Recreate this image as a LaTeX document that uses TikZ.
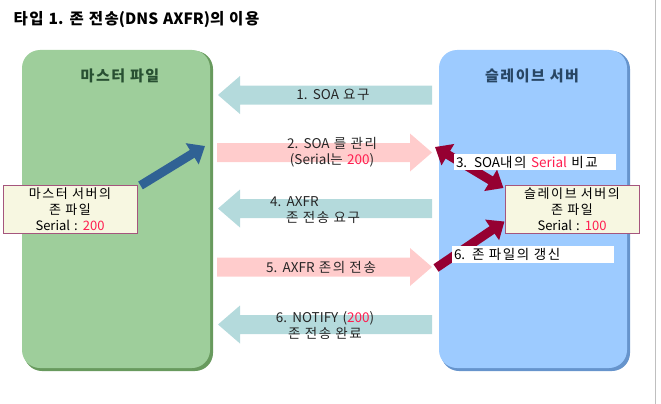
\documentclass[tikz,border=0pt]{standalone}
\usepackage{fontspec}
\setmainfont{Noto Sans CJK KR}[WordSpace=1.4]
\usetikzlibrary{positioning,arrows.meta,calc}

% 한글 글자 사이 간격
\XeTeXinterchartokenstate=1
\newXeTeXintercharclass\hgclass
\count255="AC00
\loop
  \XeTeXcharclass\count255=\hgclass
  \ifnum\count255<"D7A3 \advance\count255 by 1 \repeat
\XeTeXinterchartoks\hgclass\hgclass={\kern1.6pt}

\definecolor{boxgreen}{RGB}{158,206,155}
\definecolor{edgegreen}{RGB}{104,154,94}
\definecolor{boxblue}{RGB}{157,203,255}
\definecolor{edgeblue}{RGB}{102,148,204}
\definecolor{askcyan}{RGB}{180,218,220}
\definecolor{sendpink}{RGB}{255,204,204}
\definecolor{filebg}{RGB}{247,247,225}
\definecolor{fileedge}{RGB}{165,85,125}
\definecolor{numred}{RGB}{255,30,80}
\definecolor{wine}{RGB}{150,0,50}
\definecolor{steel}{RGB}{48,98,148}
\definecolor{greentext}{RGB}{40,80,50}
\definecolor{bluetext}{RGB}{40,70,100}

\tikzset{
  lbl/.style={font=\fontsize{13.5}{16}\selectfont, text=black!85, align=center, inner sep=0pt},
  panel/.style={rounded corners=18pt, minimum width=188pt, minimum height=318pt, inner sep=0pt},
  filebox/.style={draw=fileedge, line width=1pt, fill=filebg, minimum width=134pt,
    minimum height=48pt, inner sep=0pt, align=center, font=\fontsize{13}{16}\selectfont},
  notebox/.style={fill=white, inner sep=2pt, text width=158pt, minimum height=16pt,
    align=left, font=\fontsize{13.5}{14}\selectfont},
  fat/.style={line width=9pt},
}

% 큰 화살표 (왼쪽 / 오른쪽)
\newcommand{\toleft}[1]{%
  \fill[askcyan] (218,#1) -- (240,#1-19) -- (240,#1-9.5) -- (432,#1-9.5)
    -- (432,#1+9.5) -- (240,#1+9.5) -- (240,#1+19) -- cycle;}
\newcommand{\toright}[1]{%
  \fill[sendpink] (432,#1) -- (410,#1-19) -- (410,#1-9.5) -- (217,#1-9.5)
    -- (217,#1+9.5) -- (410,#1+9.5) -- (410,#1+19) -- cycle;}
\newcommand{\red}[1]{{\color{numred}#1}}

\begin{document}
\begin{tikzpicture}[x=1pt,y=-1pt]
  \useasboundingbox (0,0) rectangle (661,404);
  \draw[black!25] (655,0) -- (655,404);

  % 제목
  \node[anchor=west, font=\fontsize{15.5}{17}\selectfont\bfseries] (title) at (10,20)
    {타입 1. 존 전송(DNS AXFR)의 이용};

  % 마스터 / 슬레이브
  \fill[edgegreen, rounded corners=18pt] (24,51) rectangle (213,371);
  \node[panel, fill=boxgreen] (master) at (116,209) {};
  \node[font=\fontsize{15}{17}\selectfont\bfseries, text=greentext] (mtitle) at (120,76) {마스터 파일};

  \fill[edgeblue, rounded corners=18pt] (441,51) rectangle (630,371);
  \node[panel, fill=boxblue] (slave) at (533,209) {};
  \node[font=\fontsize{15}{17}\selectfont\bfseries, text=bluetext] (stitle) at (532,76) {슬레이브 서버};

  % 메시지
  \toleft{95}
  \node[lbl] (m1) at (333,95) {1. SOA 요구};
  \toright{152.5}
  \node[lbl] (m2) at (332,152) {2. SOA 를 관리\\(Serial는 \red{200})};
  \toleft{208.5}
  \node[lbl, anchor=west, align=left] (m4) at (270,210) {4. AXFR\\\hspace*{16pt}존 전송 요구};
  \toright{267}
  \node[lbl] (m5) at (321,267) {5. AXFR 존의 전송};
  \toleft{324.5}
  \node[lbl] (m6) at (325,325) {6. NOTIFY (\red{200})\\존 전송 완료};

  % 존 파일
  \node[filebox] (mfile) at (70,209) {마스터 서버의\\존 파일\\Serial : \red{200}};
  \node[filebox] (sfile) at (572,209.5) {슬레이브 서버의\\존 파일\\Serial : \red{100}};

  \coordinate (mout) at (205,146);
  \coordinate (s3) at (435,147);
  \coordinate (s6) at (436,268);

  \draw[fat, steel, -{Triangle[length=15pt,width=24pt]}]
    ([xshift=3pt,yshift=-1pt]mfile.north east) -- (mout);
  \draw[fat, wine, {Triangle[length=15pt,width=24pt]}-{Triangle[length=15pt,width=24pt]}]
    (s3) -- ([xshift=-1pt,yshift=-3pt]sfile.north west);
  \draw[fat, wine, -{Triangle[length=15pt,width=24pt]}]
    (s6) -- ([yshift=-12pt]sfile.west);

  \node[notebox] (n3) at (535,162) {3. SOA내의 \red{Serial} 비교};
  \node[notebox] (n6) at (533,254.5) {6. 존 파일의 갱신};
\end{tikzpicture}
\end{document}
